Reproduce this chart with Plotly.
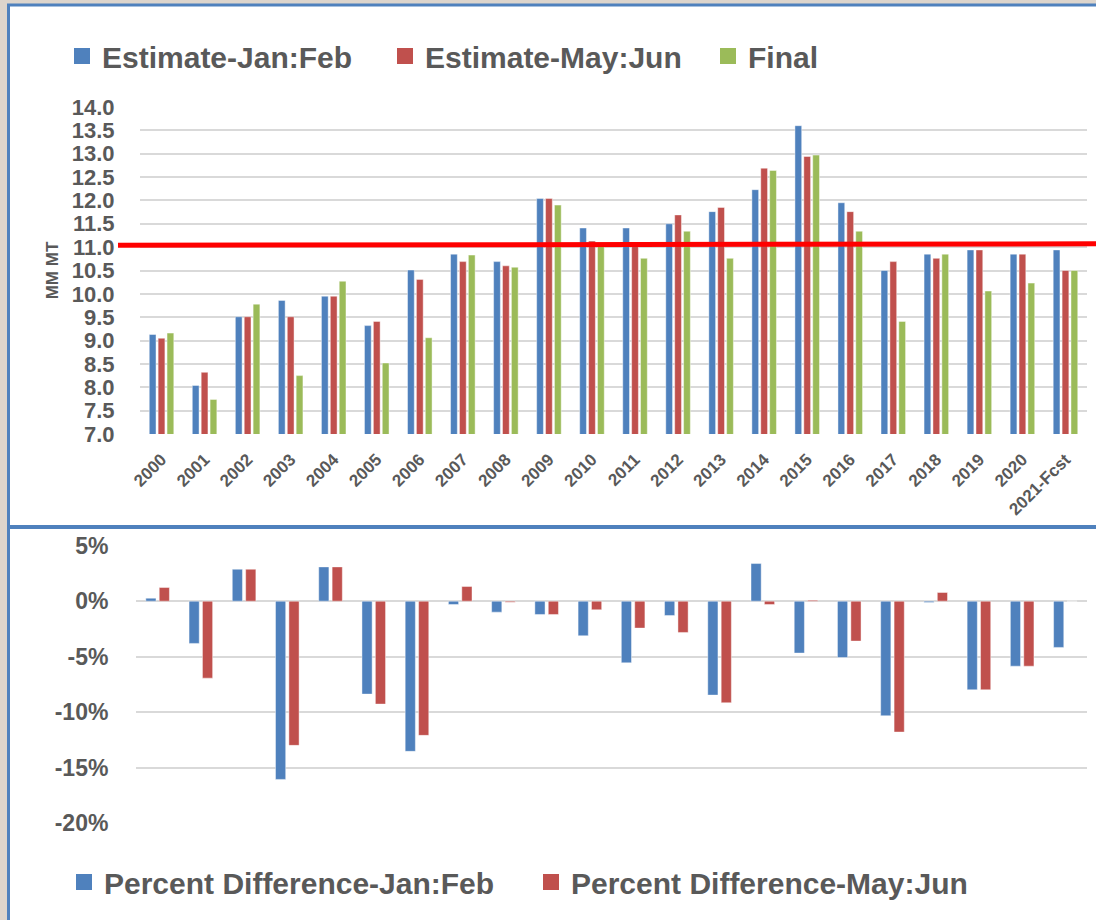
import plotly.graph_objects as go

# ---------------- data ----------------
years = ["2000", "2001", "2002", "2003", "2004", "2005", "2006", "2007", "2008", "2009",
         "2010", "2011", "2012", "2013", "2014", "2015", "2016", "2017", "2018", "2019",
         "2020", "2021-Fcst"]

est_jan_feb = [9.13, 8.04, 9.51, 9.86, 9.95, 9.32, 10.51, 10.85, 10.69, 12.04,
               11.41, 11.41, 11.50, 11.76, 12.23, 13.60, 11.95, 10.50, 10.85, 10.94,
               10.85, 10.94]
est_may_jun = [9.05, 8.32, 9.51, 9.51, 9.95, 9.41, 10.31, 10.69, 10.60, 12.04,
               11.13, 11.09, 11.69, 11.85, 12.69, 12.94, 11.76, 10.69, 10.76, 10.94,
               10.85, 10.50]
final = [9.16, 7.74, 9.78, 8.25, 10.27, 8.52, 9.06, 10.83, 10.57, 11.90,
         11.02, 10.76, 11.34, 10.76, 12.64, 12.97, 11.34, 9.41, 10.85, 10.06,
         10.23, 10.50]

pct_jan_feb = [0.0027, -0.0381, 0.0288, -0.1607, 0.0309, -0.0838, -0.1354, -0.0030, -0.0099, -0.0120,
               -0.0312, -0.0556, -0.0129, -0.0847, 0.0339, -0.0468, -0.0508, -0.1033, -0.0012, -0.0799,
               -0.0586, -0.0417]
pct_may_jun = [0.0123, -0.0694, 0.0288, -0.1300, 0.0309, -0.0928, -0.1210, 0.0132, -0.0010, -0.0120,
               -0.0078, -0.0243, -0.0282, -0.0916, -0.0030, 0.0009, -0.0360, -0.1180, 0.0078, -0.0799,
               -0.0586, 0.0]

top_tick_vals = [7.0, 7.5, 8.0, 8.5, 9.0, 9.5, 10.0, 10.5, 11.0, 11.5, 12.0, 12.5, 13.0, 13.5, 14.0]
pct_tick_vals = [0.05, 0.0, -0.05, -0.10, -0.15, -0.20]
pct_tick_text = ["5%", "0%", "-5%", "-10%", "-15%", "-20%"]

reference_level = [11.04, 11.07]   # hand-drawn red line (left end, right end)

# ---------------- style ----------------
W, H = 1096, 920
BLUE, RED, GREEN = "#4F81BD", "#C0504D", "#9BBB59"
TXT = "#595959"
GRID = "#D9D9D9"
FONT = "Liberation Sans, Arial, sans-serif"
BEIGE = "#DDD5CC"
FRAME = "#4F81BD"


def px_x(p):
    return p / W


def px_y(p):
    return 1 - p / H


edge = dict(color="rgba(255,255,255,0.55)", width=0.8)

fig = go.Figure()


def add_series(x, y, name, color, xa, ya, leg):
    fig.add_trace(go.Bar(x=x, y=y, name=name, marker=dict(color=color, line=edge),
                         xaxis=xa, yaxis=ya, legendgroup=name, showlegend=False))
    # legend entry (square swatch) for the bar series
    fig.add_trace(go.Scatter(x=[None], y=[None], name=name, mode="markers",
                             marker=dict(symbol="square", size=17, color=color),
                             xaxis=xa, yaxis=ya, legendgroup=name, legend=leg,
                             hoverinfo="skip"))


add_series(years, est_jan_feb, "Estimate-Jan:Feb", BLUE, "x", "y", "legend")
add_series(years, est_may_jun, "Estimate-May:Jun", RED, "x", "y", "legend")
add_series(years, final, "Final", GREEN, "x", "y", "legend")
add_series(years, pct_jan_feb, "Percent Difference-Jan:Feb", BLUE, "x2", "y2", "legend2")
add_series(years, pct_may_jun, "Percent Difference-May:Jun", RED, "x2", "y2", "legend2")

legend_font = dict(family=FONT, size=30, color=TXT, weight="bold")

fig.update_layout(
    width=W, height=H,
    margin=dict(l=0, r=0, t=0, b=0, autoexpand=False),
    paper_bgcolor=BEIGE,
    plot_bgcolor="rgba(0,0,0,0)",
    barmode="group",
    bargap=0.38,
    bargroupgap=0.24,
    font=dict(family=FONT, color=TXT),
    xaxis=dict(
        domain=[px_x(140), px_x(1087)], anchor="y", automargin=False,
        categoryorder="array", categoryarray=years,
        tickangle=-45,
        tickfont=dict(family=FONT, size=17, color=TXT, weight="bold"),
        ticks="outside", ticklen=8, tickcolor="rgba(0,0,0,0)",
        showgrid=False, showline=False, zeroline=False,
    ),
    yaxis=dict(
        domain=[px_y(434), px_y(107)], anchor="x", automargin=False,
        range=[7.0, 14.0],
        tickvals=top_tick_vals, tickformat=".1f",
        tickfont=dict(family=FONT, size=22, color=TXT, weight="bold"),
        ticks="outside", ticklen=20, tickcolor="rgba(0,0,0,0)",
        showgrid=True, gridcolor=GRID, gridwidth=2,
        zeroline=False, showline=False,
        title=dict(text="MM MT", standoff=8,
                   font=dict(family=FONT, size=17, color=TXT, weight="bold")),
    ),
    xaxis2=dict(
        domain=[px_x(136), px_x(1087)], anchor="y2", automargin=False,
        categoryorder="array", categoryarray=years,
        showticklabels=False, showgrid=False, showline=False, zeroline=False,
    ),
    yaxis2=dict(
        domain=[px_y(823), px_y(545.7)], anchor="x2", automargin=False,
        range=[-0.20, 0.05],
        tickvals=pct_tick_vals, ticktext=pct_tick_text,
        tickfont=dict(family=FONT, size=23, color=TXT, weight="bold"),
        ticks="outside", ticklen=22, tickcolor="rgba(0,0,0,0)",
        showgrid=True, gridcolor=GRID, gridwidth=2,
        zeroline=False, showline=False,
    ),
    legend=dict(
        orientation="h", x=px_x(62), y=px_y(56), xanchor="left", yanchor="middle",
        font=legend_font, bgcolor="rgba(0,0,0,0)", entrywidth=278, traceorder="normal",
    ),
    legend2=dict(
        orientation="h", x=px_x(64), y=px_y(882), xanchor="left", yanchor="middle",
        font=legend_font, bgcolor="rgba(0,0,0,0)", entrywidth=422, traceorder="normal",
    ),
    shapes=[
        # white panel with blue frame
        dict(type="rect", xref="paper", yref="paper", layer="below",
             x0=px_x(8.5), x1=1.05, y0=-0.05, y1=px_y(5),
             fillcolor="white", line=dict(color=FRAME, width=3)),
        # separator between the two panels
        dict(type="line", xref="paper", yref="paper", layer="below",
             x0=px_x(8.5), x1=1.05, y0=px_y(527), y1=px_y(527),
             line=dict(color=FRAME, width=4)),
        # red reference line
        dict(type="line", xref="paper", yref="y", layer="above",
             x0=px_x(118), x1=1.0, y0=reference_level[0], y1=reference_level[1],
             line=dict(color="#FF0000", width=5)),
    ],
)

fig.write_html(
    "out.html",
    config={"displayModeBar": False},
    post_script="document.body.style.margin='0px';document.body.style.background='#DDD5CC';",
)
